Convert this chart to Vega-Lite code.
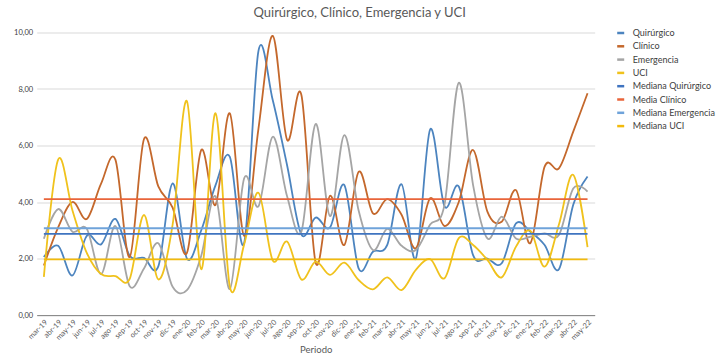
{
  "$schema": "https://vega.github.io/schema/vega-lite/v6.json",
  "autosize": {"type": "none"},
  "width": 558,
  "height": 282.5,
  "padding": {"left": 36.7, "top": 32.5, "right": 126.3, "bottom": 39},
  "background": "white",
  "config": {
    "font": "Lato",
    "view": {"stroke": null}
  },
  "title": {
    "text": "Quirúrgico, Clínico, Emergencia y UCI",
    "fontSize": 13,
    "fontWeight": "normal",
    "color": "#595959",
    "anchor": "middle",
    "frame": "group",
    "dx": 44,
    "offset": 8.5
  },
  "datasets": {
    "meses": [
      {"mes": "mar-19", "Quirúrgico": 2.05, "Clínico": 1.75, "Emergencia": 2.7, "UCI": 1.35},
      {"mes": "abr-19", "Quirúrgico": 2.45, "Clínico": 3.1, "Emergencia": 3.75, "UCI": 5.5},
      {"mes": "may-19", "Quirúrgico": 1.4, "Clínico": 4.0, "Emergencia": 2.95, "UCI": 3.7},
      {"mes": "jun-19", "Quirúrgico": 2.8, "Clínico": 3.4, "Emergencia": 3.05, "UCI": 2.2},
      {"mes": "jul-19", "Quirúrgico": 2.5, "Clínico": 4.65, "Emergencia": 1.45, "UCI": 1.45},
      {"mes": "ago-19", "Quirúrgico": 3.4, "Clínico": 5.5, "Emergencia": 3.15, "UCI": 1.38},
      {"mes": "sep-19", "Quirúrgico": 2.1, "Clínico": 2.05, "Emergencia": 1.02, "UCI": 1.28},
      {"mes": "oct-19", "Quirúrgico": 2.02, "Clínico": 6.23, "Emergencia": 1.65, "UCI": 3.54},
      {"mes": "nov-19", "Quirúrgico": 1.72, "Clínico": 4.55, "Emergencia": 2.54, "UCI": 1.26},
      {"mes": "dic-19", "Quirúrgico": 4.66, "Clínico": 3.8, "Emergencia": 1.0, "UCI": 3.2},
      {"mes": "ene-20", "Quirúrgico": 2.0, "Clínico": 2.2, "Emergencia": 0.88, "UCI": 7.57},
      {"mes": "feb-20", "Quirúrgico": 3.0, "Clínico": 5.84, "Emergencia": 2.1, "UCI": 1.62},
      {"mes": "mar-20", "Quirúrgico": 4.6, "Clínico": 3.9, "Emergencia": 4.2, "UCI": 7.14},
      {"mes": "abr-20", "Quirúrgico": 5.6, "Clínico": 7.14, "Emergencia": 0.92, "UCI": 1.0},
      {"mes": "may-20", "Quirúrgico": 2.55, "Clínico": 2.8, "Emergencia": 4.84, "UCI": 2.5},
      {"mes": "jun-20", "Quirúrgico": 9.35, "Clínico": 6.6, "Emergencia": 3.85, "UCI": 4.33},
      {"mes": "jul-20", "Quirúrgico": 7.6, "Clínico": 9.88, "Emergencia": 6.31, "UCI": 1.93},
      {"mes": "ago-20", "Quirúrgico": 5.3, "Clínico": 6.2, "Emergencia": 4.2, "UCI": 2.6},
      {"mes": "sep-20", "Quirúrgico": 2.85, "Clínico": 7.79, "Emergencia": 2.95, "UCI": 1.26},
      {"mes": "oct-20", "Quirúrgico": 3.45, "Clínico": 1.85, "Emergencia": 6.76, "UCI": 1.89},
      {"mes": "nov-20", "Quirúrgico": 3.1, "Clínico": 4.22, "Emergencia": 3.5, "UCI": 1.42},
      {"mes": "dic-20", "Quirúrgico": 4.6, "Clínico": 2.48, "Emergencia": 6.37, "UCI": 1.85},
      {"mes": "ene-21", "Quirúrgico": 1.65, "Clínico": 5.07, "Emergencia": 3.7, "UCI": 1.24},
      {"mes": "feb-21", "Quirúrgico": 2.24, "Clínico": 3.6, "Emergencia": 2.3, "UCI": 0.91},
      {"mes": "mar-21", "Quirúrgico": 2.48, "Clínico": 4.1, "Emergencia": 3.05, "UCI": 1.33},
      {"mes": "abr-21", "Quirúrgico": 4.63, "Clínico": 3.55, "Emergencia": 2.45, "UCI": 0.88},
      {"mes": "may-21", "Quirúrgico": 2.0, "Clínico": 2.36, "Emergencia": 2.3, "UCI": 1.6},
      {"mes": "jun-21", "Quirúrgico": 6.57, "Clínico": 4.13, "Emergencia": 3.2, "UCI": 1.98},
      {"mes": "jul-21", "Quirúrgico": 3.85, "Clínico": 3.15, "Emergencia": 3.9, "UCI": 1.3},
      {"mes": "ago-21", "Quirúrgico": 4.55, "Clínico": 4.0, "Emergencia": 8.22, "UCI": 2.72},
      {"mes": "sep-21", "Quirúrgico": 2.12, "Clínico": 5.84, "Emergencia": 4.6, "UCI": 2.48},
      {"mes": "oct-21", "Quirúrgico": 2.0, "Clínico": 3.66, "Emergencia": 2.71, "UCI": 1.95},
      {"mes": "nov-21", "Quirúrgico": 1.83, "Clínico": 3.3, "Emergencia": 3.48, "UCI": 1.33},
      {"mes": "dic-21", "Quirúrgico": 3.24, "Clínico": 4.42, "Emergencia": 2.71, "UCI": 2.42},
      {"mes": "ene-22", "Quirúrgico": 2.95, "Clínico": 2.54, "Emergencia": 2.77, "UCI": 2.98},
      {"mes": "feb-22", "Quirúrgico": 2.48, "Clínico": 5.25, "Emergencia": 2.89, "UCI": 1.71},
      {"mes": "mar-22", "Quirúrgico": 1.62, "Clínico": 5.19, "Emergencia": 2.83, "UCI": 3.2},
      {"mes": "abr-22", "Quirúrgico": 3.9, "Clínico": 6.49, "Emergencia": 4.48, "UCI": 4.96},
      {"mes": "may-22", "Quirúrgico": 4.9, "Clínico": 7.85, "Emergencia": 4.37, "UCI": 2.4}
    ],
    "referencias": [
      {"serie": "Mediana Quirúrgico", "valor": 2.87},
      {"serie": "Media Clínico", "valor": 4.1},
      {"serie": "Mediana Emergencia", "valor": 3.07},
      {"serie": "Mediana UCI", "valor": 1.97}
    ]
  },
  "layer": [
    {
      "data": {"name": "meses"},
      "transform": [
        {"fold": ["Quirúrgico", "Clínico", "Emergencia", "UCI"], "as": ["serie", "valor"]}
      ],
      "mark": {"type": "line", "interpolate": "cardinal", "strokeWidth": 1.8},
      "encoding": {
        "x": {
          "field": "mes",
          "type": "ordinal",
          "sort": null,
          "scale": {"type": "band", "paddingInner": 0, "paddingOuter": 0},
          "axis": {
            "title": "Periodo",
            "titleFont": "Lato",
            "titleFontSize": 9.5,
            "titleFontWeight": "normal",
            "titleColor": "#595959",
            "titleY": 29,
            "titleBaseline": "top",
            "labelAngle": -45,
            "labelFontSize": 7.5,
            "labelColor": "#595959",
            "labelPadding": 3,
            "ticks": false,
            "domainColor": "#8C8C8C",
            "domainWidth": 1,
            "grid": false
          }
        },
        "y": {
          "field": "valor",
          "type": "quantitative",
          "scale": {"domain": [0, 10], "nice": false},
          "axis": {
            "title": null,
            "values": [0, 2, 4, 6, 8, 10],
            "labelExpr": "replace(format(datum.value, '.2f'), '.', ',')",
            "labelFontSize": 7.5,
            "labelColor": "#404040",
            "labelPadding": 4,
            "ticks": false,
            "domain": false,
            "grid": true,
            "gridColor": "#D9D9D9",
            "gridWidth": 1
          }
        },
        "color": {
          "field": "serie",
          "type": "nominal",
          "scale": {
            "domain": ["Quirúrgico", "Clínico", "Emergencia", "UCI", "Mediana Quirúrgico", "Media Clínico", "Mediana Emergencia", "Mediana UCI"],
            "range": ["#4C84BF", "#C4682C", "#A5A5A5", "#F0C21C", "#3F74C0", "#E9643A", "#6FA3DA", "#F2BA0C"]
          },
          "legend": {
            "title": null,
            "orient": "none",
            "legendX": 579,
            "legendY": -4.5,
            "symbolType": "stroke",
            "symbolSize": 49,
            "symbolStrokeWidth": 2.5,
            "labelFontSize": 9,
            "labelColor": "#404040",
            "labelOffset": 7,
            "rowPadding": 3.3
          }
        }
      }
    },
    {
      "data": {"name": "referencias"},
      "mark": {"type": "rule"},
      "encoding": {
        "x": {"datum": "mar-19", "type": "ordinal"},
        "x2": {"datum": "may-22"},
        "y": {"field": "valor", "type": "quantitative"},
        "color": {"field": "serie", "type": "nominal"},
        "strokeWidth": {
          "field": "serie",
          "type": "nominal",
          "scale": {
            "domain": ["Mediana Quirúrgico", "Media Clínico", "Mediana Emergencia", "Mediana UCI"],
            "range": [1.8, 1.8, 1.6, 3]
          },
          "legend": null
        }
      }
    }
  ]
}
